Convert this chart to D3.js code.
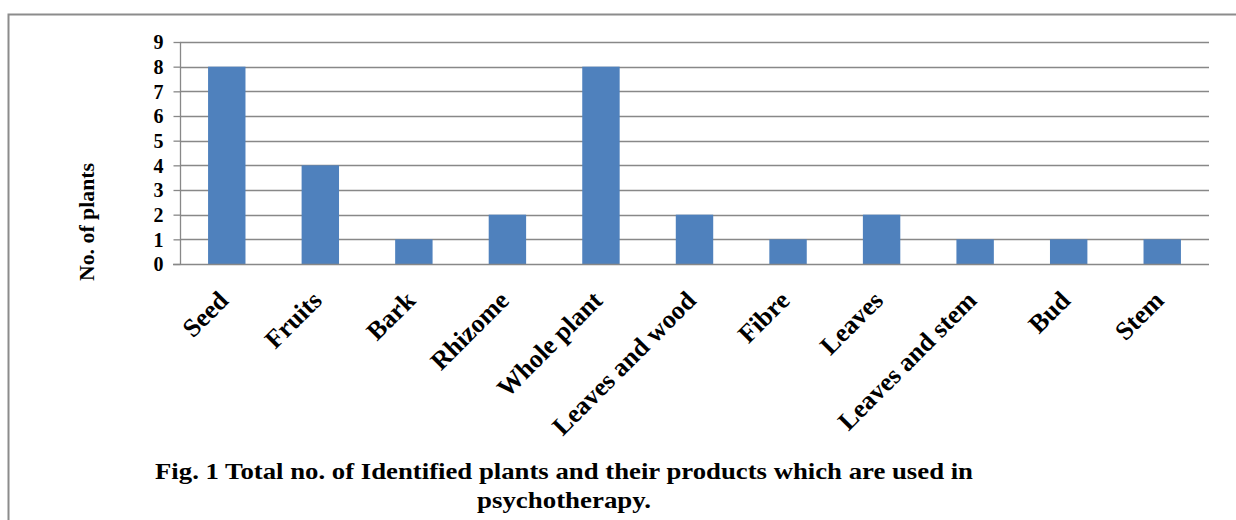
<!DOCTYPE html>
<html>
<head>
<meta charset="utf-8">
<script src="https://cdn.jsdelivr.net/npm/d3@7"></script>
<style>
  html, body { margin: 0; padding: 0; background: #fff; }
  svg { display: block; }
  text { font-family: "Liberation Serif", "Times New Roman", serif; font-weight: bold; fill: #000; }
</style>
</head>
<body>
<svg id="chart" width="1236" height="520"></svg>
<script>
const categories = ["Seed", "Fruits", "Bark", "Rhizome", "Whole plant", "Leaves and wood", "Fibre", "Leaves", "Leaves and stem", "Bud", "Stem"];
const values = [8, 4, 1, 2, 8, 2, 1, 2, 1, 1, 1];
const yTicks = [0, 1, 2, 3, 4, 5, 6, 7, 8, 9];
const yTitle = "No. of plants";
const captionLines = ["Fig. 1 Total no. of Identified plants and their products which are used in", "psychotherapy."];

const svg = d3.select("#chart");
const W = 1236, H = 520;
svg.append("rect").attr("width", W).attr("height", H).attr("fill", "#fff");

// outer frame
svg.append("rect")
  .attr("x", 8.5).attr("y", 14.5)
  .attr("width", W + 20).attr("height", H + 20)
  .attr("fill", "none").attr("stroke", "#8c8c8c").attr("stroke-width", 2);

const pLeft = 180, pRight = 1209, pTop = 42, pBottom = 264;

const x = d3.scaleBand().domain(categories).range([pLeft, pRight]).paddingInner(0.6).paddingOuter(0.3);
const y = d3.scaleLinear().domain([0, 9]).range([pBottom, pTop]);

// gridlines
svg.append("g")
  .selectAll("line").data(yTicks.filter(d => d > 0)).join("line")
  .attr("x1", pLeft).attr("x2", pRight)
  .attr("y1", d => Math.round(y(d)) + 0.5).attr("y2", d => Math.round(y(d)) + 0.5)
  .attr("stroke", "#888").attr("stroke-width", 1.3);

// bars
svg.append("g")
  .selectAll("rect").data(values).join("rect")
  .attr("x", (d, i) => x(categories[i]))
  .attr("width", x.bandwidth())
  .attr("y", d => y(d))
  .attr("height", d => y(0) - y(d))
  .attr("fill", "#4f81bd");

// y axis
const yAxis = d3.axisLeft(y).tickValues(yTicks).tickSize(7).tickPadding(10).tickFormat(d3.format("d"));
const gy = svg.append("g").attr("transform", `translate(${pLeft + 0.5},0)`).call(yAxis);
gy.select(".domain").attr("stroke", "#888").attr("stroke-width", 1.3).attr("d", `M0,${pTop}V${pBottom}`);
gy.selectAll(".tick line").attr("stroke", "#888").attr("stroke-width", 1.3);
gy.selectAll(".tick text")
  .style("font-family", '"Liberation Serif", "Times New Roman", serif')
  .style("font-weight", "bold").style("font-size", "20px").attr("fill", "#000").attr("dy", "0.34em");

// x axis line
svg.append("line")
  .attr("x1", pLeft - 7).attr("x2", pRight)
  .attr("y1", pBottom + 0.5).attr("y2", pBottom + 0.5)
  .attr("stroke", "#888").attr("stroke-width", 1.3);

// x labels
svg.append("g")
  .selectAll("text").data(categories).join("text")
  .attr("transform", d => `translate(${x(d) + x.bandwidth() / 2 + 3},${pBottom + 38}) rotate(-45)`)
  .attr("text-anchor", "end")
  .style("font-size", "26px")
  .text(d => d);

// y title
svg.append("text")
  .attr("transform", `translate(94,222) rotate(-90)`)
  .attr("text-anchor", "middle")
  .style("font-size", "20px")
  .attr("textLength", 118)
  .attr("lengthAdjust", "spacingAndGlyphs")
  .text(yTitle);

// caption
const capLen = [818, 174];
svg.append("g")
  .selectAll("text").data(captionLines).join("text")
  .attr("x", 564)
  .attr("y", (d, i) => 479 + i * 29)
  .attr("text-anchor", "middle")
  .style("font-size", "24px")
  .attr("textLength", (d, i) => capLen[i])
  .attr("lengthAdjust", "spacingAndGlyphs")
  .text(d => d);
</script>
</body>
</html>
